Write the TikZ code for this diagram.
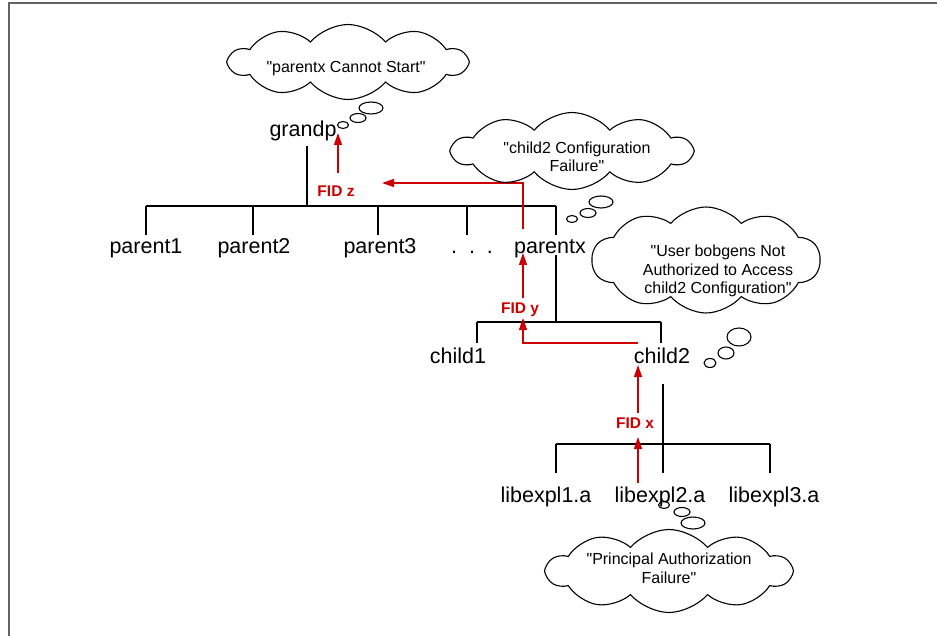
\documentclass[tikz,border=0pt]{standalone}
\usepackage{fontspec}
\setmainfont{Liberation Sans}
\usetikzlibrary{shapes.symbols,arrows.meta}
\definecolor{fidred}{RGB}{204,0,0}
\definecolor{framegray}{RGB}{100,100,100}
\newcommand{\qq}{\textquotedbl}

\tikzset{
  treeline/.style={draw=black, line width=1.1pt},
  fidpath/.style={draw=fidred, line width=1.3pt, -{Triangle[length=12pt,width=8pt]}},
  fidlabel/.style={text=fidred, font=\fontsize{15.5}{18}\selectfont\bfseries, anchor=base, inner sep=0pt},
  member/.style={font=\fontsize{21.5}{25}\selectfont, anchor=base, inner sep=0pt},
  thought/.style={cloud, draw=black, line width=1.1pt, cloud puffs=10, cloud puff arc=100,
                  cloud ignores aspect, inner sep=0pt},
  thoughttext/.style={font=\fontsize{16}{18.5}\selectfont, align=center, anchor=base, inner sep=0pt},
  bubble/.style={draw=black, line width=1.1pt},
  frameline/.style={draw=framegray, line width=2pt}
}

\begin{document}
\begin{tikzpicture}[x=1pt, y=-1pt]
\useasboundingbox (0,0) rectangle (937,636);
\draw[frameline] (9,636) -- (9,3) -- (937,3);

% ---- tree members ----
\node[member] (grandp)  at (303,137) {grandp};
\node[member] (parent1) at (146,254) {parent1};
\node[member] (parent2) at (254,254) {parent2};
\node[member] (parent3) at (380,254) {parent3};
\node[member] (dots)    at (472,254) {.\ \ .\ \ .};
\node[member] (parentx) at (550,254) {parentx};
\node[member] (child1)  at (458,363) {child1};
\node[member] (child2)  at (662,363) {child2};
\node[member] (lib1)    at (546,502) {libexpl1.a};
\node[member] (lib2)    at (660,502) {libexpl2.a};
\node[member] (lib3)    at (774,502) {libexpl3.a};

% ---- branch points ----
\coordinate (g-top) at (307,146);  \coordinate (g-bar) at (307,206);
\coordinate (pbar-l) at (146,206); \coordinate (pbar-r) at (556,206);
\coordinate (x-top) at (556,255);  \coordinate (x-bar) at (556,322);
\coordinate (cbar-l) at (477,322); \coordinate (cbar-r) at (661,322);
\coordinate (c2-top) at (663,384); \coordinate (c2-end) at (663,473);
\coordinate (lbar-l) at (556,444); \coordinate (lbar-r) at (770,444);

% ---- grandp to parents ----
\draw[treeline] (g-top) -- (g-bar);
\draw[treeline] (pbar-l) -- (pbar-r);
\foreach \px in {146,253,378,467,556}
  \draw[treeline] (\px,206) -- (\px,235);

% ---- parentx to children ----
\draw[treeline] (x-top) -- (x-bar);
\draw[treeline] (cbar-l) -- (cbar-r);
\foreach \px in {477,661}
  \draw[treeline] (\px,322) -- (\px,343);

% ---- child2 to libraries ----
\draw[treeline] (c2-top) -- (c2-end);
\draw[treeline] (lbar-l) -- (lbar-r);
\foreach \px in {556,770}
  \draw[treeline] (\px,444) -- (\px,473);

% ---- failure id propagation ----
\coordinate (fx-from) at (638,483); \coordinate (fx-to) at (638,437);
\coordinate (fx2-from) at (638,413); \coordinate (fx2-to) at (638,365);
\coordinate (fy-from) at (638,343); \coordinate (fy-bend) at (523,343); \coordinate (fy-to) at (523,318);
\coordinate (fy2-from) at (523,298); \coordinate (fy2-to) at (523,253);
\coordinate (fz-from) at (523,229); \coordinate (fz-bend) at (523,183); \coordinate (fz-to) at (382,183);
\coordinate (fz2-from) at (338,173); \coordinate (fz2-to) at (338,133);

\draw[fidpath] (fx-from) -- (fx-to);
\draw[fidpath] (fx2-from) -- (fx2-to);
\draw[fidpath] (fy-from) -- (fy-bend) -- (fy-to);
\draw[fidpath] (fy2-from) -- (fy2-to);
\draw[fidpath] (fz-from) -- (fz-bend) -- (fz-to);
\draw[fidpath] (fz2-from) -- (fz2-to);

\node[fidlabel] (fidx) at (635,428) {FID x};
\node[fidlabel] (fidy) at (520,314) {FID y};
\node[fidlabel] (fidz) at (336,197) {FID z};

% ---- thought clouds (text anchored at the last line's baseline) ----
\node[thought, minimum width=237pt, minimum height=75pt] (cl-grandp) at (348,62) {};
\node[thoughttext] (tx-grandp) at (346,73) {\qq parentx Cannot Start\qq};
\draw[bubble] (371,108) ellipse [x radius=12pt, y radius=6pt];
\draw[bubble] (358,118) ellipse [x radius=8pt, y radius=4.5pt];
\draw[bubble] (343,125) ellipse [x radius=5.5pt, y radius=3.5pt];

\node[thought, minimum width=239pt, minimum height=77pt] (cl-parentx) at (572,151) {};
\node[thoughttext] (tx-parentx) at (577,172) {\qq child2 Configuration\\Failure\qq};
\draw[bubble] (601,202) ellipse [x radius=12pt, y radius=6pt];
\draw[bubble] (588,213) ellipse [x radius=8pt, y radius=4.5pt];
\draw[bubble] (572,219) ellipse [x radius=5.5pt, y radius=3.5pt];

\node[thought, minimum width=228pt, minimum height=106pt] (cl-child2) at (706,260) {};
\node[thoughttext] (tx-child2) at (718,294) {\qq User bobgens Not\\Authorized to Access\\child2 Configuration\qq};
\draw[bubble] (739,337) ellipse [x radius=12pt, y radius=9pt];
\draw[bubble] (726,353) ellipse [x radius=8pt, y radius=6pt];
\draw[bubble] (710,363) ellipse [x radius=6pt, y radius=4.5pt];

\node[thought, minimum width=244pt, minimum height=83pt] (cl-lib2) at (669,571) {};
\node[thoughttext] (tx-lib2) at (669,583) {\qq Principal Authorization\\Failure\qq};
\draw[bubble] (693,523) ellipse [x radius=12pt, y radius=6pt];
\draw[bubble] (682,512) ellipse [x radius=8pt, y radius=4.5pt];
\draw[bubble] (664,505) ellipse [x radius=5.5pt, y radius=3.5pt];
\end{tikzpicture}
\end{document}
